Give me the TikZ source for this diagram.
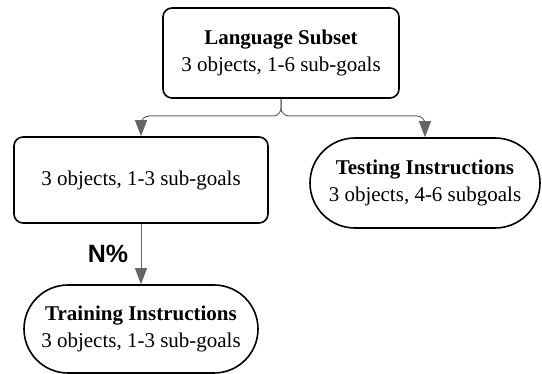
\documentclass[tikz,border=0pt]{standalone}
\usepackage{fontspec}
\setmainfont{Liberation Serif}
\setsansfont{Liberation Sans}
\usetikzlibrary{shapes.misc,arrows.meta}

\tikzset{
  box/.style={draw,line width=1.6pt,rounded corners=9pt,inner sep=0pt,align=center,
    font=\fontsize{21}{27}\selectfont},
  pill/.style={draw,line width=1.6pt,rounded rectangle,inner sep=0pt,align=center,
    font=\fontsize{21}{27}\selectfont},
  link/.style={draw=black!60,line width=1pt,rounded corners=8pt,
    -{Triangle[length=16pt,width=12pt]}},
}

\begin{document}
\begin{tikzpicture}[x=1pt,y=-1pt]
        \useasboundingbox (0,0) rectangle (542,374);
        \node[box,minimum width=236pt,minimum height=90pt] (lang) at (281,53)
          {\textbf{Language Subset}\\3 objects, 1-6 sub-goals};
        \node[box,minimum width=254pt,minimum height=86pt] (subset) at (141,180)
          {3 objects, 1-3 sub-goals};
        \node[pill,minimum width=230pt,minimum height=90pt] (testing) at (425,183)
          {\textbf{Testing Instructions}\\3 objects, 4-6 subgoals};
        \node[pill,minimum width=234pt,minimum height=88pt] (training) at (141,329)
          {\textbf{Training Instructions}\\3 objects, 1-3 sub-goals};
        \coordinate (split) at (281,116);
        \draw[link] (lang.south) -- (split) -| (subset.north);
        \draw[link] (lang.south) -- (split) -| (testing.north);
        \draw[link] (subset.south) -- (training.north)
          node[midway,left=9pt,font=\sffamily\bfseries\fontsize{25}{28}\selectfont] (pct) {N\%};
      \end{tikzpicture}
\end{document}
